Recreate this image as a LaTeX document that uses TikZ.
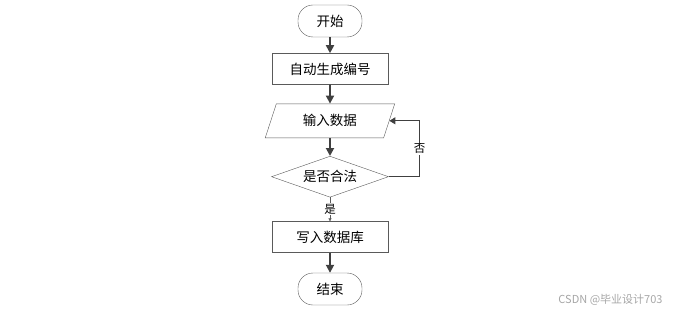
\documentclass[tikz,border=0pt]{standalone}
\usepackage{fontspec}
\newfontfamily\cjk{Noto Sans CJK SC}
\usepackage{tikz}
\usetikzlibrary{arrows.meta, positioning, shapes.geometric}

\definecolor{linegray}{HTML}{404040}
\definecolor{edgegray}{HTML}{5A5A5A}

\begin{document}
\begin{tikzpicture}[
  x=1pt, y=1pt,
  term/.style={rectangle, draw=edgegray, rounded corners=15pt, font=\cjk\fontsize{13.5}{15}\selectfont, minimum width=64pt, minimum height=32pt, inner sep=0pt},
  box/.style={rectangle, draw=edgegray, font=\cjk\fontsize{13.5}{15}\selectfont, minimum width=116pt, minimum height=31pt, inner sep=0pt},
  io/.style={trapezium, trapezium left angle=66, trapezium right angle=114, trapezium stretches=true, draw=edgegray, font=\cjk\fontsize{13.5}{15}\selectfont, minimum width=130pt, minimum height=34pt, inner sep=0pt},
  dec/.style={diamond, draw=edgegray, aspect=2.85, font=\cjk\fontsize{13.5}{15}\selectfont, minimum width=117pt, minimum height=41pt, inner sep=0pt},
  arr/.style={draw=linegray, -{Triangle[length=8pt, width=8pt]}, line width=1.8pt},
  thinarr/.style={draw=linegray, -{Triangle[length=6pt, width=7pt]}, line width=0.9pt},
  yesarr/.style={draw=edgegray, -{Triangle[length=3pt, width=3pt]}, line width=0.5pt},
  lbl/.style={fill=white, font=\cjk\fontsize{11.5}{13}\selectfont, inner sep=1pt}
]
  \path[use as bounding box] (0,0) rectangle (675,-315);

  % Nodes
  \node[term] (start) at (330,-21) {开始};
  \node[box, below=16pt of start] (gen) {自动生成编号};
  \node[io, below=19pt of gen] (inp) {输入数据};
  \node[dec, below=18pt of inp] (chk) {是否合法};
  \node[box, below=24pt of chk] (save) {写入数据库};
  \node[term, below=20pt of save] (stop) {结束};

  % Flows
  \draw[arr] (start) -- (gen);
  \draw[arr] (gen) -- (inp);
  \draw[arr] (inp) -- (chk);
  \draw[yesarr] (chk) -- node[lbl] {是} (save);
  \draw[arr] (save) -- (stop);
  \draw[thinarr] (chk.east) -- ++(31,0) |- node[lbl, pos=0.25] {否} (inp.east);

  % Watermark
  \node[font=\cjk\fontsize{11}{13}\selectfont, text=gray!70, anchor=east] (mark) at (666,-300) {CSDN @毕业设计703};
\end{tikzpicture}
\end{document}
